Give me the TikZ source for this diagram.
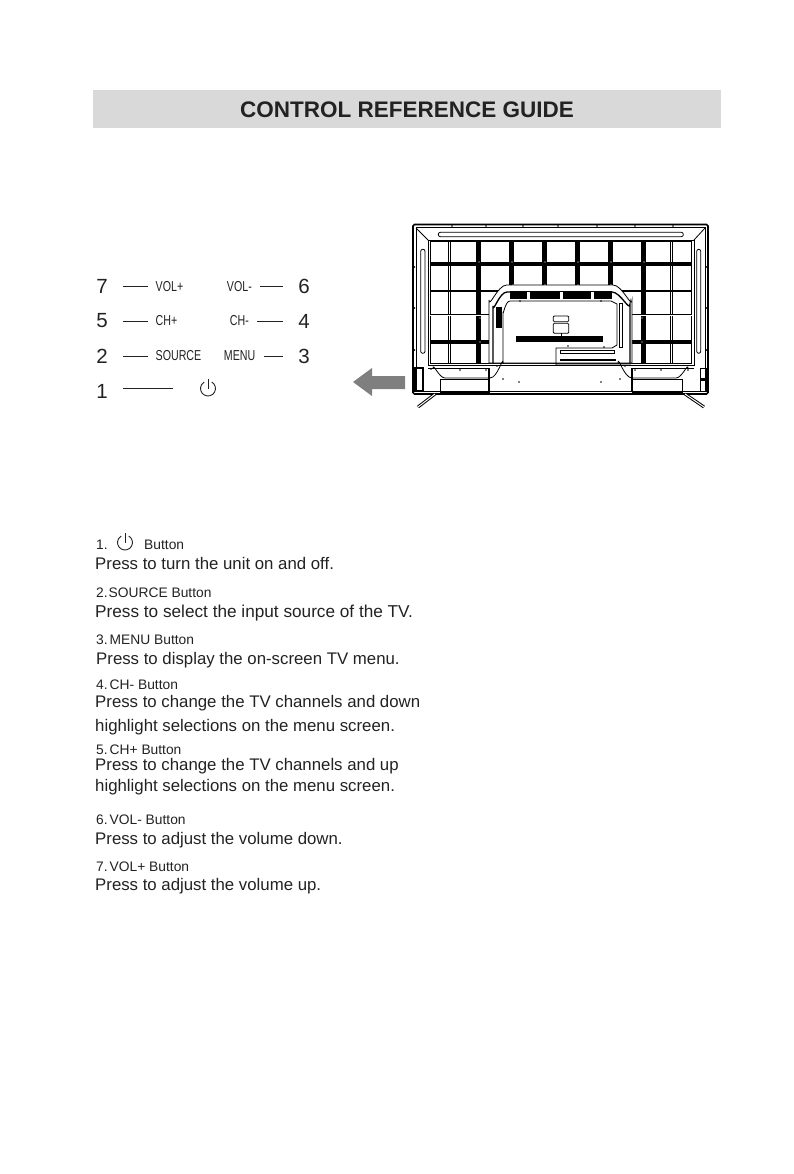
\documentclass[tikz,border=0pt]{standalone}
\usepackage{fontspec}
\setmainfont{Liberation Sans}
\newfontfamily\narrowfont[FakeStretch=0.74]{Liberation Sans}
\usepackage{xcolor}
\definecolor{BandGray}{HTML}{D9D9D9}
\definecolor{ArrowGray}{HTML}{7F7F7F}
\definecolor{TextDark}{HTML}{222222}
\usetikzlibrary{positioning}
\tikzset{
  num label/.style={inner sep=0pt, font=\fontsize{20.5}{22}\selectfont, text=TextDark},
  key label/.style={inner sep=0pt, font=\narrowfont\fontsize{14.4}{16}\selectfont, text=TextDark},
  lead/.style={line width=0.7pt, color=TextDark},
  guide head/.style={anchor=base west, inner sep=0pt, font=\fontsize{13.8}{16}\selectfont, text=TextDark},
  guide body/.style={anchor=base west, inner sep=0pt, font=\fontsize{16.8}{19}\selectfont, text=TextDark},
  thick bar/.style={line width=4.8pt},
  mid bar/.style={line width=2.6pt},
  double bar/.style={line width=2.8pt, double=white, double distance=0.8pt, line width=0.8pt},
  tv line/.style={line width=0.8pt},
  tv frame/.style={line width=1.6pt, rounded corners=1.5pt},
  powericon/.pic={
    \draw[line width=0.9pt, color=TextDark] (-60:#1) arc[start angle=-60, end angle=240, radius=#1];
    \draw[line width=0.9pt, color=TextDark] (0,-1.25*#1) -- (0,0.1*#1);
  },
}
\begin{document}
\begin{tikzpicture}[x=1pt, y=-1pt]
  \useasboundingbox (0,0) rectangle (794,1174);

  \node[fill=BandGray, minimum width=628pt, minimum height=38pt, inner sep=0pt, text height=18pt,
    font=\bfseries\fontsize{22.5}{24}\selectfont, text=TextDark] (title) at (407,109)
    {CONTROL REFERENCE GUIDE};

  \node[num label] (n7) at (102,286.5) {7};
  \node[num label] (n5) at (102,321) {5};
  \node[num label] (n2) at (102,356) {2};
  \node[num label] (n1) at (102,391) {1};
  \node[num label] (n6) at (304,286.5) {6};
  \node[num label] (n4) at (304,321) {4};
  \node[num label] (n3) at (304,356) {3};

  \node[key label, anchor=west] (volup) at (155.5,286.5) {VOL+};
  \node[key label, anchor=west] (chup) at (155.5,321) {CH+};
  \node[key label, anchor=west] (source) at (155.5,356) {SOURCE};
  \node[key label, anchor=east] (voldown) at (252,286.5) {VOL-};
  \node[key label, anchor=east] (chdown) at (249,321) {CH-};
  \node[key label, anchor=east] (menu) at (255.5,356) {MENU};
  \coordinate (powerlead) at (173,388);
  \pic at (208,388.5) {powericon=7.5};

  \draw[lead, shorten <=15pt, shorten >=8pt] (n7) -- (volup);
  \draw[lead, shorten <=15pt, shorten >=8pt] (n5) -- (chup);
  \draw[lead, shorten <=15pt, shorten >=8pt] (n2) -- (source);
  \draw[lead, shorten <=15pt] (n1.east |- powerlead) -- (powerlead);
  \draw[lead, shorten <=8pt, shorten >=15pt] (voldown) -- (n6);
  \draw[lead, shorten <=8pt, shorten >=15pt] (chdown) -- (n4);
  \draw[lead, shorten <=8pt, shorten >=15pt] (menu) -- (n3);

  \fill[ArrowGray] (353,382) -- (372,368) -- (372,376) -- (405,376) -- (405,389)
    -- (372,389) -- (372,396) -- cycle;

  % back of the set
  \draw[tv line] (430.3,241.7) rectangle (691.7,363.5);
  \foreach \barx in {478.3,643.3} \draw[thick bar] (\barx,241.7) -- (\barx,363);
  \foreach \barx in {511.3,544.3,577.3,610.3} \draw[thick bar] (\barx,241.7) -- (\barx,285);
  \foreach \barx in {449.3,671.3} \draw[double bar] (\barx,241.7) -- (\barx,363);
  \draw[thick bar] (430.3,264) -- (691.7,264);
  \draw[mid bar] (430.3,291) -- (691.7,291);
  \draw[double bar] (430.3,315) -- (691.7,315);
  \draw[thick bar] (430.3,342) -- (691.7,342);

  \fill[white, draw=black, tv line] (489,363) -- (489,300) to[out=-90, in=180] (506.7,285)
    -- (613,285) to[out=0, in=-90] (632,300) -- (632,363) -- cycle;
  \draw[line width=1.3pt] (493,363) -- (493,306) to[out=-90, in=180] (507,292)
    -- (612,292) to[out=0, in=-90] (630,304) -- (630,363);
  \draw[tv line] (503,363) -- (503,312) to[out=-90, in=180] (510,301) -- (611,301)
    -- (617,304) -- (617,345) -- (612,348) -- (556,348) -- (556,365) -- (631,365);
  \draw[tv line] (560,350) -- (614,350) -- (614,353) -- (560,353) -- cycle;
  \draw[line width=1.2pt] (560,360) -- (616,360);
  \draw[tv line] (622.5,303) rectangle (619,347);

  \fill (510,291) rectangle (612,299);
  \foreach \notchx in {528.5,561,592} \fill[white] (\notchx-1.5,292) rectangle (\notchx+1.5,299);
  \fill (496,306.7) rectangle (501.7,328.3);
  \fill (516,336) rectangle (602.7,342);
  \draw[tv line, rounded corners=1pt] (553.3,316) rectangle (568.7,321.7);
  \draw[tv line, rounded corners=1pt] (553.3,323.3) rectangle (568.7,333.3);
  \draw[tv line] (561,333.3) -- (561,336);

  \draw[tv frame] (413,224.5) rectangle (708,394);
  \draw[tv line] (416,227.5) rectangle (705,391.5);
  \draw[tv line] (428,240) -- (694,240) -- (694,365) -- (428,365) -- cycle;
  \draw[tv line] (416,228) -- (428,240);
  \draw[tv line] (705,228) -- (694,240);
  \draw[tv line, rounded corners=2pt] (438.3,232.3) rectangle (683.3,236.7);
  \draw[tv line, rounded corners=2pt] (420.7,249.3) rectangle (425,353.3);
  \draw[tv line, rounded corners=2pt] (696.7,249.3) rectangle (700.7,353.3);

  \draw[line width=1.2pt] (428,368.3) -- (490,368.3);
  \draw[line width=1.2pt] (631,368.3) -- (694,368.3);
  \draw[tv line] (433,368.3) to[out=90, in=180] (445,378) -- (489,378);
  \draw[tv line] (688,368.3) to[out=90, in=0] (676,378) -- (632,378);
  \draw[tv line] (503,363) to[out=90, in=0] (490,378);
  \draw[tv line] (618,363) to[out=90, in=180] (632,378);
  \draw[tv line] (440,379) rectangle (489,392);
  \draw[tv line] (632,379) rectangle (682,392);
  \draw[line width=1.1pt] (489,368.3) -- (489,392);
  \draw[line width=1.1pt] (632,368.3) -- (632,392);
  \draw[line width=1.2pt] (415,368) rectangle (423,391);
  \draw[tv line] (700,368) rectangle (706,391);
  \fill (700,378) rectangle (706,381);

  \foreach \dotx in {452,486,523,558,597,635,673} \fill (\dotx,226) circle (0.8);
  \foreach \doty in {267,308,350} {
    \fill (414.5,\doty) circle (0.8);
    \fill (706.5,\doty) circle (0.8);
  }
  \foreach \dotx/\doty in {431/369,460/370,486/370,497/366,503/379,519/382,
    601/382,620/379,625/366,635/370,661/370,688/370,
    520/301,601/301,568/346,604/347} \fill (\dotx,\doty) circle (0.9);
  \foreach \dotx/\doty in {479/262,512/262,545/262,578/262,611/262,644/262,
    513/285,545/285,578/285,611/285,480/318,480/342,642/318,642/342} \fill[white] (\dotx,\doty) circle (0.6);

  \draw[line width=1pt, double=white, double distance=1pt] (435,394) -- (418,407);
  \draw[line width=1pt, double=white, double distance=1pt] (685,394) -- (704,407);

  \node[guide head] (h1a) at (96,549) {1.};
  \pic at (125,542.5) {powericon=7.5};
  \node[guide head] (h1b) at (144,549) {Button};
  \node[guide body] (b1) at (95,569) {Press to turn the unit on and off.};
  \node[guide head] (h2) at (96,597) {2.\hspace{1pt}SOURCE Button};
  \node[guide body, font=\fontsize{17.2}{19}\selectfont] (b2) at (95,617) {Press to select the input source of the TV.};
  \node[guide head] (h3) at (96,644.5) {3.\hspace{2pt}MENU Button};
  \node[guide body] (b3) at (96,664) {Press to display the on-screen TV menu.};
  \node[guide head] (h4) at (96,689) {4.\hspace{2pt}CH- Button};
  \node[guide body] (b4a) at (95,707.5) {Press to change the TV channels and down};
  \node[guide body] (b4b) at (95,731) {highlight selections on the menu screen.};
  \node[guide head] (h5) at (96,754) {5.\hspace{2pt}CH+ Button};
  \node[guide body] (b5a) at (95,770.5) {Press to change the TV channels and up};
  \node[guide body] (b5b) at (95,791) {highlight selections on the menu screen.};
  \node[guide head] (h6) at (96,824) {6.\hspace{2pt}VOL- Button};
  \node[guide body] (b6) at (95,844.5) {Press to adjust the volume down.};
  \node[guide head] (h7) at (96,871) {7.\hspace{2pt}VOL+ Button};
  \node[guide body] (b7) at (95,890) {Press to adjust the volume up.};
\end{tikzpicture}
\end{document}
